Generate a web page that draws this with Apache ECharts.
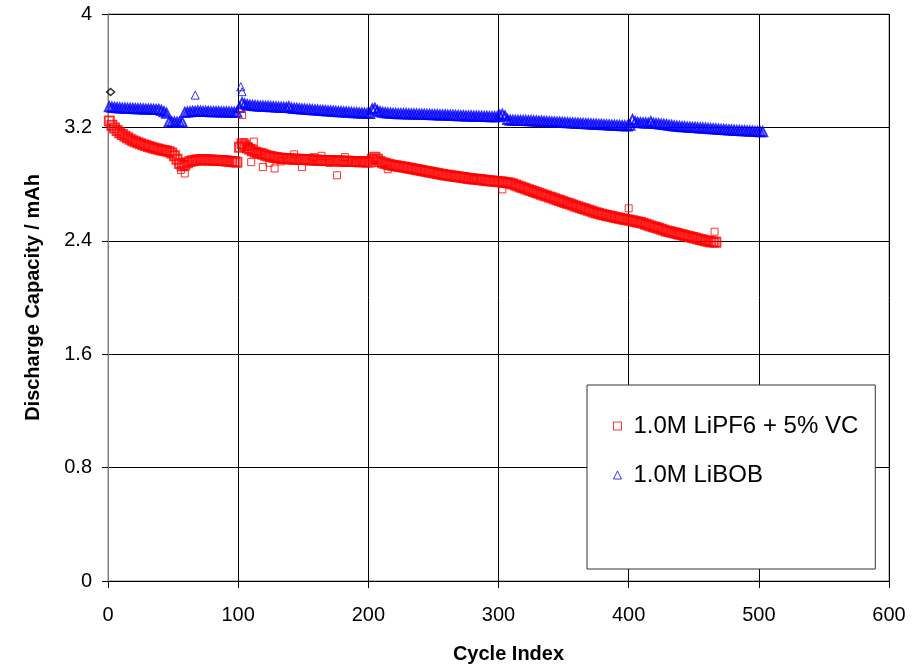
<!DOCTYPE html>
<html>
<head>
<meta charset="utf-8">
<script src="https://cdn.jsdelivr.net/npm/echarts@6/dist/echarts.min.js"></script>
<style>
html,body{margin:0;padding:0;background:#fff;}
#chart{width:924px;height:665px;}
</style>
</head>
<body>
<div id="chart"></div>
<script>
// ---- data ----
const seriesNames = ['1.0M LiPF6 + 5% VC', '1.0M LiBOB'];
const xTicks = [0, 100, 200, 300, 400, 500, 600];
const yTicks = [0, 0.8, 1.6, 2.4, 3.2, 4];

// cycle index of the first point and the spacing between listed points
const firstCycle = 1;
const cycleStep = 2;

// 1.0M LiBOB (cycles 1,3,5,...,503)
const liBobValues = [
  3.345,3.342,3.340,3.338,3.337,3.336,3.335,3.334,3.333,3.333,
  3.332,3.331,3.331,3.330,3.329,3.329,3.328,3.327,3.327,3.326,
  3.320,3.310,3.300,3.240,3.238,3.238,3.237,3.237,3.238,3.305,
  3.308,3.310,3.312,3.313,3.315,3.314,3.313,3.312,3.312,3.311,
  3.311,3.310,3.310,3.309,3.309,3.308,3.308,3.307,3.307,3.306,
  3.340,3.374,3.365,3.360,3.357,3.355,3.353,3.351,3.350,3.349,
  3.348,3.347,3.346,3.345,3.344,3.343,3.342,3.341,3.340,3.345,
  3.336,3.334,3.333,3.331,3.330,3.329,3.327,3.326,3.324,3.323,
  3.322,3.320,3.319,3.318,3.316,3.315,3.314,3.313,3.311,3.310,
  3.309,3.308,3.307,3.306,3.304,3.303,3.302,3.301,3.300,3.299,
  3.298,3.330,3.335,3.318,3.310,3.306,3.303,3.301,3.300,3.299,
  3.298,3.297,3.297,3.296,3.296,3.295,3.295,3.294,3.294,3.293,
  3.293,3.292,3.291,3.291,3.290,3.289,3.289,3.288,3.287,3.287,
  3.286,3.285,3.285,3.284,3.283,3.283,3.282,3.281,3.281,3.280,
  3.279,3.279,3.278,3.278,3.277,3.277,3.276,3.276,3.275,3.275,
  3.285,3.292,3.280,3.255,3.250,3.250,3.249,3.249,3.248,3.248,
  3.248,3.247,3.247,3.246,3.245,3.244,3.243,3.242,3.241,3.240,
  3.239,3.238,3.237,3.236,3.235,3.234,3.233,3.232,3.231,3.230,
  3.229,3.228,3.227,3.226,3.225,3.224,3.223,3.222,3.221,3.220,
  3.219,3.218,3.217,3.216,3.215,3.214,3.213,3.212,3.211,3.210,
  3.215,3.255,3.240,3.235,3.233,3.232,3.231,3.230,3.240,3.228,
  3.227,3.225,3.223,3.221,3.219,3.216,3.213,3.210,3.208,3.206,
  3.205,3.204,3.202,3.201,3.200,3.199,3.197,3.196,3.195,3.194,
  3.192,3.191,3.190,3.189,3.187,3.186,3.185,3.184,3.182,3.181,
  3.180,3.179,3.178,3.177,3.176,3.175,3.174,3.173,3.172,3.171,
  3.170,3.169
];
const liBobOutliers = [[67, 3.428], [102, 3.487], [103, 3.452]];

// 1.0M LiPF6 + 5% VC (cycles 1,3,5,...,467)
const lipf6Values = [
  3.245,3.215,3.195,3.178,3.163,3.150,3.138,3.127,3.116,3.106,
  3.098,3.091,3.084,3.078,3.072,3.066,3.060,3.055,3.050,3.045,
  3.041,3.037,3.033,3.028,3.020,3.000,2.975,2.945,2.930,2.935,
  2.950,2.960,2.965,2.968,2.970,2.972,2.972,2.971,2.970,2.970,
  2.969,2.968,2.967,2.966,2.965,2.963,2.962,2.960,2.958,2.955,
  3.060,3.085,3.070,3.055,3.045,3.035,3.025,3.020,3.015,3.010,
  3.003,2.998,2.994,2.990,2.987,2.985,2.983,2.981,2.979,2.978,
  2.977,2.976,2.975,2.975,2.974,2.973,2.972,2.971,2.970,2.970,
  2.969,2.968,2.967,2.967,2.966,2.965,2.964,2.964,2.963,2.963,
  2.962,2.962,2.961,2.960,2.960,2.959,2.958,2.958,2.957,2.956,
  2.956,2.975,2.990,2.975,2.960,2.950,2.945,2.940,2.936,2.932,
  2.929,2.926,2.923,2.920,2.917,2.913,2.910,2.906,2.903,2.899,
  2.896,2.892,2.889,2.885,2.882,2.878,2.875,2.871,2.868,2.865,
  2.862,2.859,2.857,2.854,2.851,2.848,2.846,2.843,2.840,2.838,
  2.836,2.834,2.832,2.830,2.828,2.826,2.824,2.822,2.820,2.818,
  2.816,2.814,2.812,2.810,2.806,2.800,2.793,2.787,2.780,2.774,
  2.767,2.761,2.754,2.748,2.741,2.735,2.728,2.722,2.716,2.709,
  2.703,2.697,2.690,2.684,2.678,2.671,2.665,2.659,2.652,2.646,
  2.640,2.634,2.628,2.622,2.616,2.610,2.604,2.598,2.592,2.587,
  2.583,2.579,2.575,2.571,2.567,2.563,2.559,2.555,2.551,2.548,
  2.545,2.541,2.537,2.533,2.529,2.523,2.517,2.511,2.505,2.499,
  2.494,2.488,2.482,2.476,2.470,2.465,2.461,2.456,2.451,2.446,
  2.442,2.437,2.432,2.428,2.423,2.419,2.414,2.410,2.405,2.401,
  2.397,2.394,2.392,2.390
];
const lipf6Outliers = [
  [56, 2.90], [59, 2.875], [103, 3.287], [105, 3.095], [108, 3.067], [110, 2.955],
  [112, 3.10], [115, 3.03], [119, 2.92], [124, 2.95], [128, 2.91], [133, 2.96],
  [143, 3.01], [149, 2.92], [158, 2.99], [164, 3.00], [170, 2.95], [176, 2.862],
  [182, 2.99], [190, 2.955], [215, 2.905], [281, 2.834], [303, 2.763],
  [400, 2.629], [466, 2.464]
];

// single black diamond point near the start
const extraPoint = [[2, 3.449]];

// ---- chart ----
function toPairs(values) {
  return values.map((v, i) => [firstCycle + i * cycleStep, v]);
}
// isolated points are drawn with a thin outline, like the reference
function thin(points, size) {
  return points.map(p => ({ value: p, symbolSize: size, itemStyle: { borderWidth: 1 } }));
}
const FONT = 'Liberation Sans, Arial, sans-serif';
const chart = echarts.init(document.getElementById('chart'));
chart.setOption({
  animation: false,
  backgroundColor: '#ffffff',
  grid: { left: 108, right: 35, top: 14, bottom: 84, containLabel: false,
          outerBoundsMode: 'none',
          show: true, borderColor: '#808080', borderWidth: 1 },
  legend: {
    orient: 'vertical',
    left: 587, top: 385,
    padding: [29, 17, 82, 26],
    itemGap: 25,
    itemWidth: 8, itemHeight: 8,
    backgroundColor: '#ffffff',
    borderColor: '#333333', borderWidth: 1,
    textStyle: { fontFamily: FONT, fontSize: 24, color: '#000', padding: [0, 0, 0, 7] },
    data: [
      { name: seriesNames[0], itemStyle: { borderWidth: 1 } },
      { name: seriesNames[1], itemStyle: { borderWidth: 1 } }
    ]
  },
  xAxis: {
    type: 'value', min: xTicks[0], max: xTicks[xTicks.length - 1], interval: 100,
    name: 'Cycle Index', nameLocation: 'middle', nameGap: 63,
    nameTextStyle: { fontFamily: FONT, fontSize: 20, fontWeight: 'bold', color: '#000', padding: [0, 0, 0, 20] },
    axisLine: { show: true, lineStyle: { color: '#000', width: 1 } },
    axisTick: { show: true, inside: false, length: 7, lineStyle: { color: '#000' } },
    axisLabel: { fontFamily: FONT, fontSize: 20, color: '#000', margin: 24 },
    splitLine: { show: true, lineStyle: { color: '#000', width: 1 } }
  },
  yAxis: {
    type: 'value', min: yTicks[0], max: yTicks[yTicks.length - 1], interval: 0.8,
    name: 'Discharge Capacity / mAh', nameLocation: 'middle', nameGap: 65,
    nameTextStyle: { fontFamily: FONT, fontSize: 20, fontWeight: 'bold', color: '#000' },
    axisLine: { show: true, lineStyle: { color: '#808080', width: 1 } },
    axisTick: { show: true, inside: false, length: 6, lineStyle: { color: '#000' } },
    axisLabel: { fontFamily: FONT, fontSize: 20, color: '#000', margin: 16 },
    splitLine: { show: true, lineStyle: { color: '#000', width: 1 } }
  },
  series: [
    {
      name: seriesNames[1], type: 'scatter', symbol: 'triangle', symbolSize: 9,
      itemStyle: { color: 'rgba(0,0,0,0)', borderColor: '#0000ff', borderWidth: 2 },
      data: toPairs(liBobValues).concat(thin(liBobOutliers, 8)), z: 3
    },
    {
      name: seriesNames[0], type: 'scatter', symbol: 'rect', symbolSize: 9,
      itemStyle: { color: 'rgba(0,0,0,0)', borderColor: '#ff0000', borderWidth: 2 },
      data: toPairs(lipf6Values).concat(thin(lipf6Outliers, 7)), z: 4
    },
    {
      name: 'extra', type: 'scatter', symbol: 'diamond', symbolSize: [8, 7],
      itemStyle: { color: 'rgba(0,0,0,0)', borderColor: '#000000', borderWidth: 1.5 },
      data: extraPoint, z: 5
    }
  ]
});
</script>
</body>
</html>
